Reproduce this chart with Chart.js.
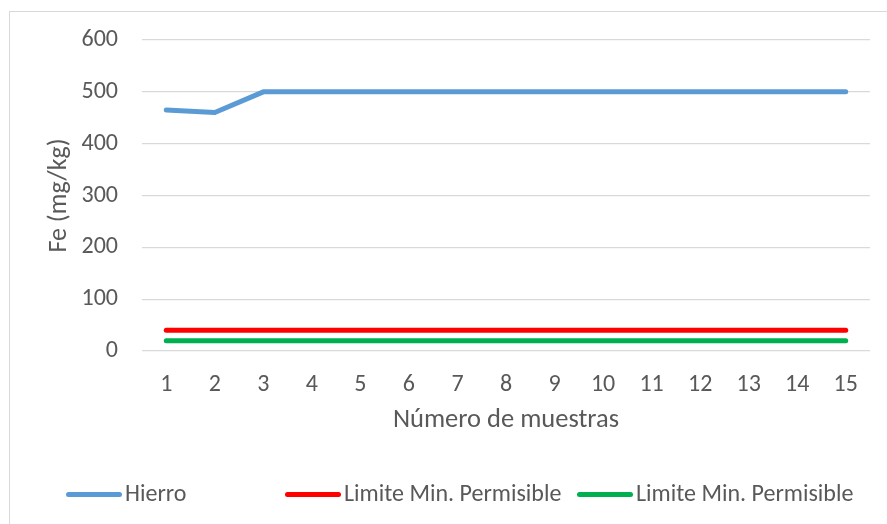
<!DOCTYPE html>
<html>
<head>
<meta charset="utf-8">
<script src="https://cdn.jsdelivr.net/npm/chart.js@4.4.1/dist/chart.umd.min.js"></script>
<style>
  html, body { margin: 0; padding: 0; background: #ffffff; width: 887px; height: 524px; overflow: hidden; }
  #frame { position: absolute; left: 9px; top: 11px; width: 890px; height: 530px; border: 1px solid #d9d9d9; box-sizing: border-box; }
  #wrap { position: absolute; left: 0; top: 0; width: 887px; height: 524px; }
  .lg-item { position: absolute; top: 481px; height: 24px; display: flex; align-items: center; white-space: nowrap; }
  .lg-line { width: 56px; height: 5px; border-radius: 3px; margin-right: 3px; margin-top: 3px; }
  .lg-text { font-family: Carlito, Calibri, sans-serif; font-size: 24px; line-height: 24px; color: #595959; }
</style>
</head>
<body>
<div id="frame"></div>
<div id="wrap"><canvas id="c" width="887" height="524"></canvas></div>
<div id="legend"></div>
<script>
const categories = ['1','2','3','4','5','6','7','8','9','10','11','12','13','14','15'];
const hierro = [465, 460, 500, 500, 500, 500, 500, 500, 500, 500, 500, 500, 500, 500, 500];
const limiteRojo = [40, 40, 40, 40, 40, 40, 40, 40, 40, 40, 40, 40, 40, 40, 40];
const limiteVerde = [20, 20, 20, 20, 20, 20, 20, 20, 20, 20, 20, 20, 20, 20, 20];
const seriesNames = ['Hierro', 'Limite Min. Permisible', 'Limite Min. Permisible'];
const yTicks = [0, 100, 200, 300, 400, 500, 600];

const seriesColors = ['#5b9bd5', '#ff0000', '#00b050'];
const legendLeft = [66, 285, 577];

const FONT = 'Carlito';
const TXT = '#595959';
const GRID = '#d9d9d9';

function ds(label, data, color) {
  return {
    label, data,
    borderColor: color, backgroundColor: color,
    borderWidth: 5, pointRadius: 0, pointHoverRadius: 0,
    borderCapStyle: 'round', borderJoinStyle: 'round',
    tension: 0, fill: false
  };
}

const chart = new Chart(document.getElementById('c'), {
  type: 'line',
  data: {
    labels: categories,
    datasets: [
      ds(seriesNames[0], hierro, seriesColors[0]),
      ds(seriesNames[1], limiteRojo, seriesColors[1]),
      ds(seriesNames[2], limiteVerde, seriesColors[2])
    ]
  },
  options: {
    responsive: false,
    animation: false,
    devicePixelRatio: 1,
    layout: { padding: { left: 40, right: 17, top: 40, bottom: 84 } },
    plugins: {
      tooltip: { enabled: false },
      legend: { display: false }
    },
    scales: {
      x: {
        offset: true,
        grid: { display: false, drawTicks: false },
        border: { display: false },
        ticks: { color: TXT, font: { family: FONT, size: 24 }, padding: 20, maxRotation: 0, autoSkip: false },
        title: { display: true, text: 'Número de muestras', color: TXT, font: { family: FONT, size: 26.5 } },
        afterFit(s) { s.height = 89; }
      },
      y: {
        min: 0, max: 600,
        afterBuildTicks(s) { s.ticks = yTicks.map(v => ({ value: v })); },
        grid: { color: GRID, lineWidth: 1.2, drawTicks: false },
        border: { display: false },
        ticks: { color: TXT, font: { family: FONT, size: 24 }, padding: 24 },
        title: { display: true, text: 'Fe (mg/kg)', color: TXT, font: { family: FONT, size: 26 } },
        afterFit(s) { s.width = 102; }
      }
    }
  }
});

// Legend built from the chart's datasets
const lg = document.getElementById('legend');
chart.data.datasets.forEach((d, i) => {
  const item = document.createElement('div');
  item.className = 'lg-item';
  item.style.left = legendLeft[i] + 'px';
  const line = document.createElement('div');
  line.className = 'lg-line';
  line.style.background = d.borderColor;
  const txt = document.createElement('span');
  txt.className = 'lg-text';
  txt.textContent = d.label;
  item.appendChild(line);
  item.appendChild(txt);
  lg.appendChild(item);
});
</script>
</body>
</html>
